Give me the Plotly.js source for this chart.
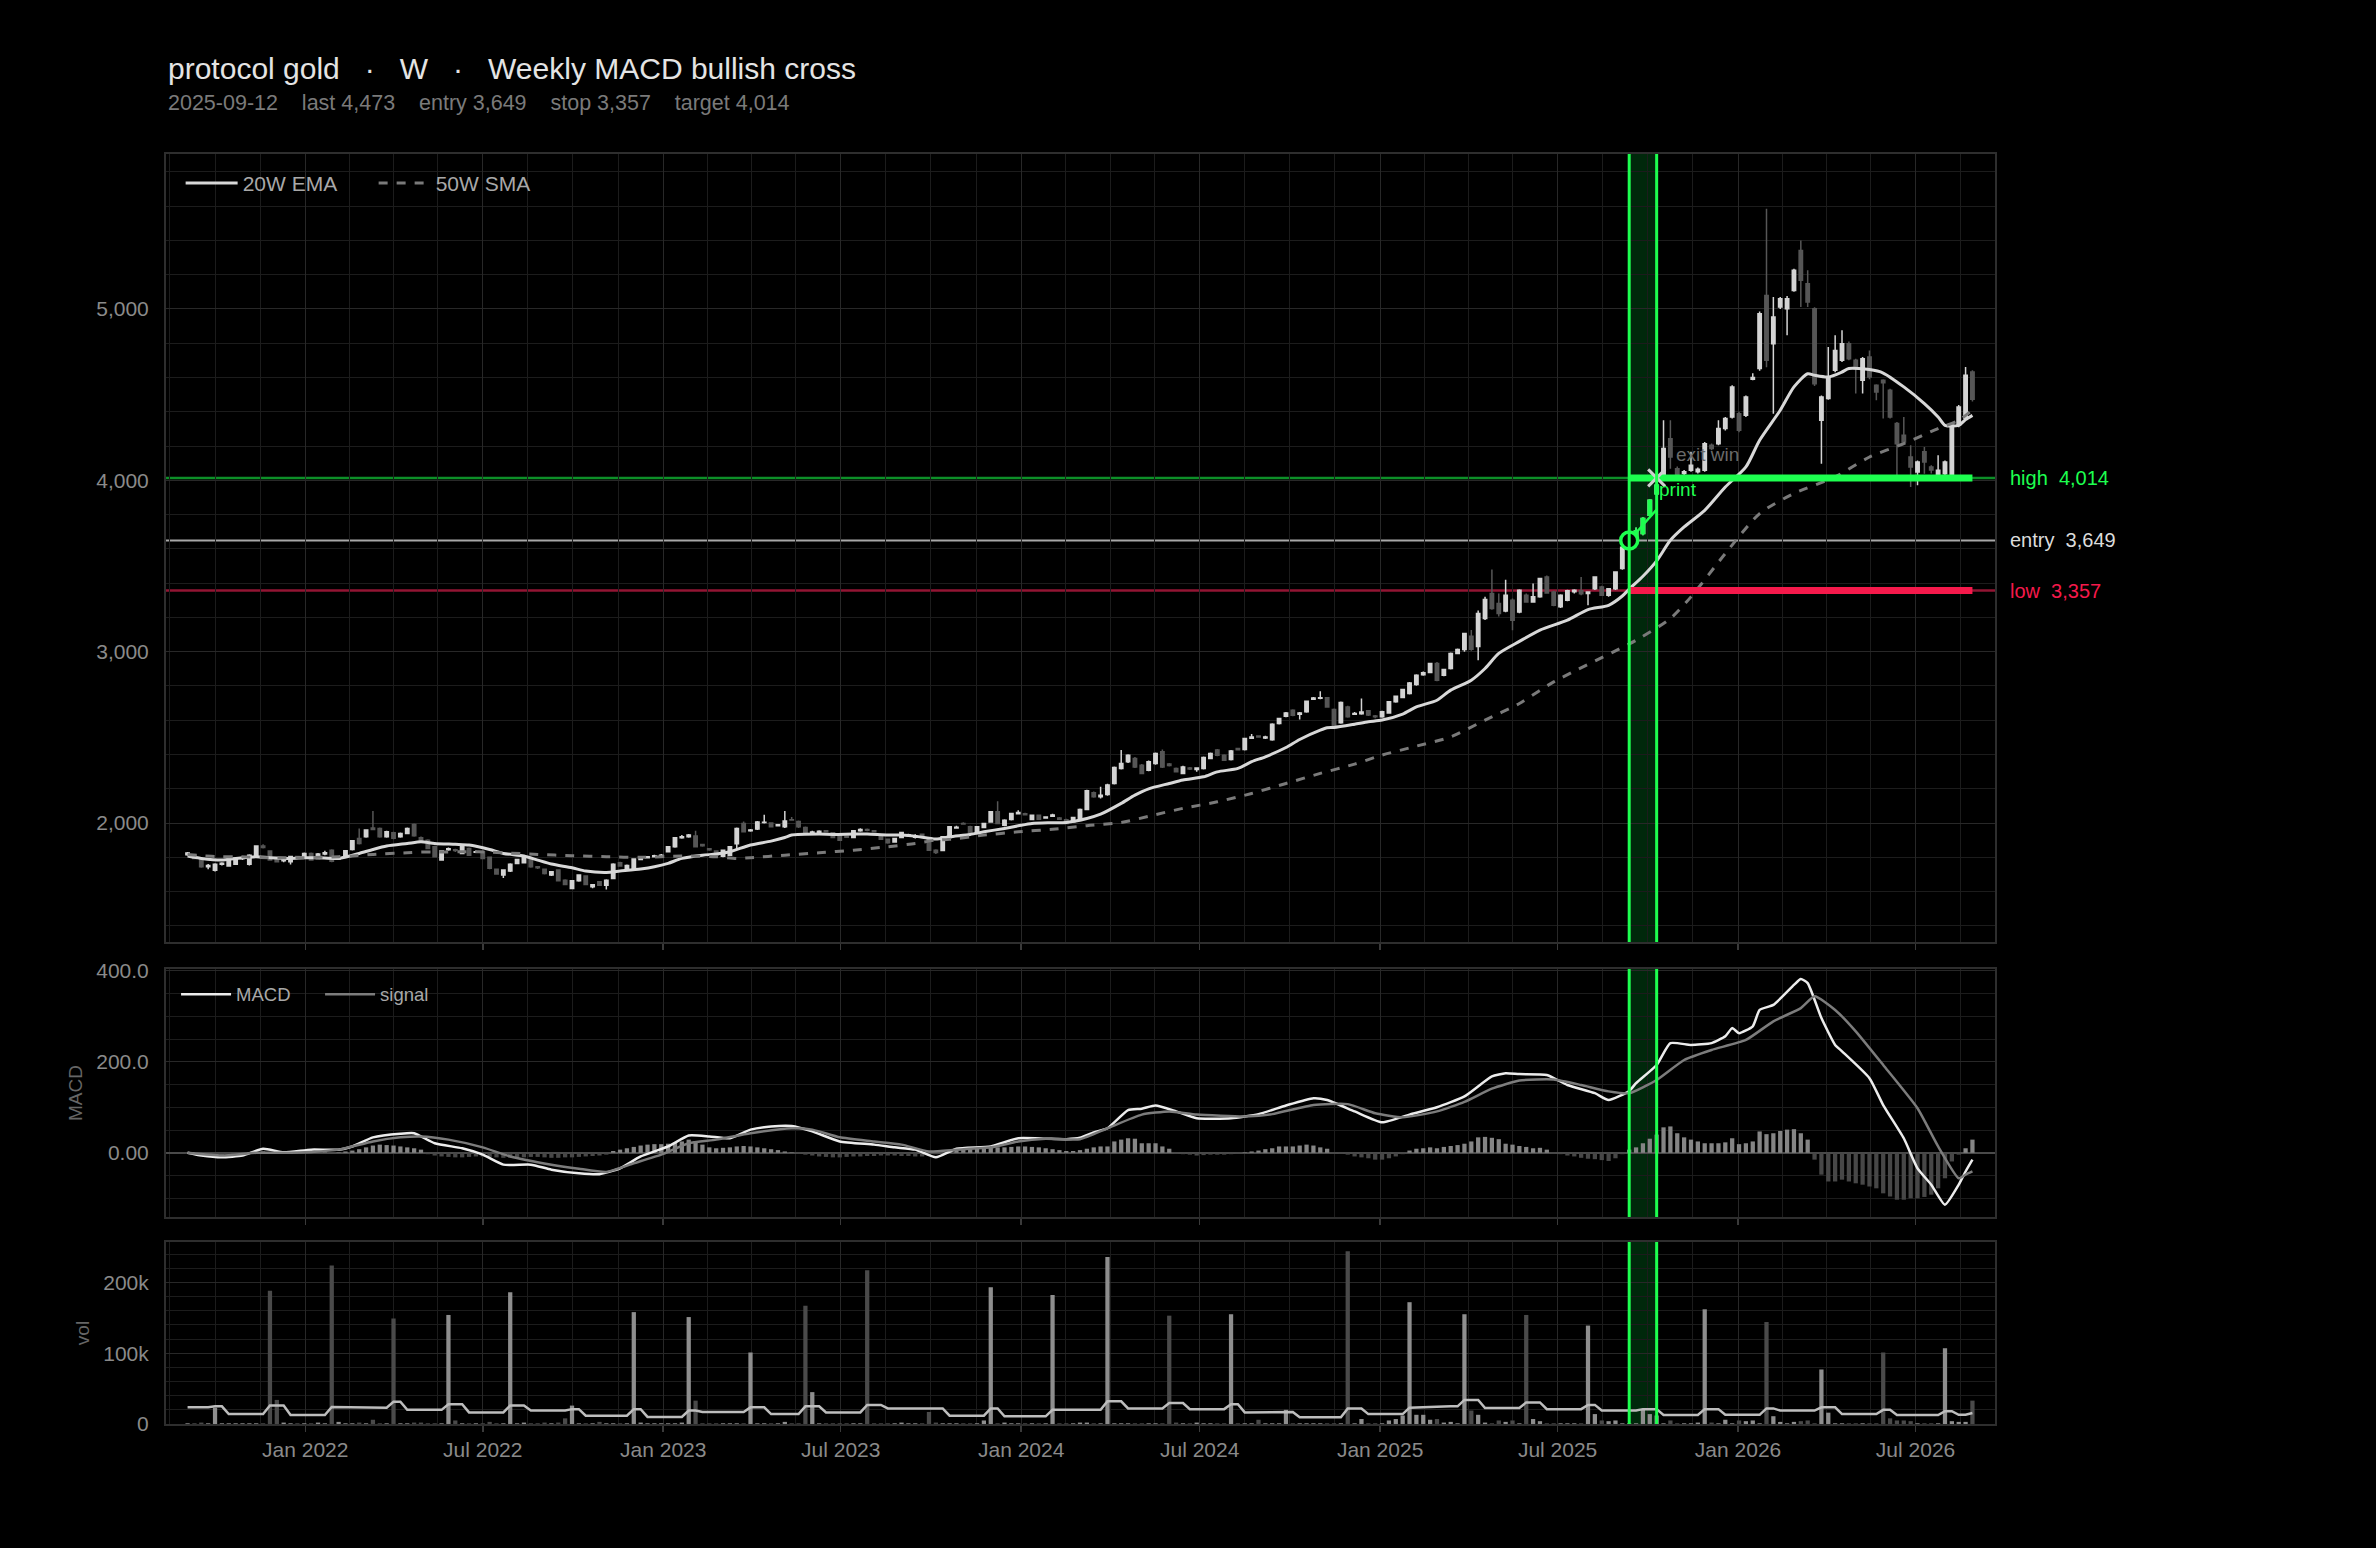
<!DOCTYPE html>
<html><head><meta charset="utf-8">
<script src="https://cdn.plot.ly/plotly-3.0.1.min.js"></script>
<style>html,body{margin:0;padding:0;background:#000;}#chart{width:2376px;height:1548px;}</style>
</head><body><div id="chart"></div>
<script>
// ---------------- data ----------------
const firstWeek = '2021-09-03';
const signalDate = '2025-09-12';
const symbolName = 'protocol gold';
const timeframe = 'W';
const setupName = 'Weekly MACD bullish cross';
const lastPrice = 4473, entryPrice = 3649, stopPrice = 3357, targetPrice = 4014;
const entryWeek = 210, exitWeek = 214, lastWeek = 260;
const tradeWeeks = [211, 212, 213, 214];
const tradePathWeeks = [210, 214];
const tradePathPrices = [3649, 3830];
const exitLabelWeek = 217, exitLabelPrice = 4150;
const printLabelWeek = 214, printLabelPrice = 3946;

const opens = [
1815,1812,1790,1745,1725,1760,1750,1760,1793,1760,
1813,1866,1837,1794,1780,1775,1805,1803,1823,1794,
1819,1842,1790,1807,1846,1910,1920,1972,1969,1920,
1944,1920,1940,1992,1914,1900,1862,1785,1845,1845,
1823,1852,1830,1833,1800,1730,1697,1720,1764,1769,
1794,1745,1730,1697,1726,1667,1619,1664,1691,1628,
1658,1638,1677,1769,1736,1736,1788,1798,1804,1810,
1833,1862,1914,1920,1924,1875,1850,1837,1807,1813,
1880,1997,1955,1965,2003,2000,1985,1978,2020,2010,
1975,1942,1946,1955,1943,1930,1923,1916,1955,1962,
1955,1930,1906,1890,1916,1928,1918,1935,1910,1842,
1840,1916,1972,1998,1978,1940,1975,2007,2066,1988,
2021,2055,2055,2021,2046,2030,2040,2030,2020,2008,
2027,2080,2177,2154,2167,2231,2319,2358,2377,2338,
2309,2348,2416,2345,2318,2290,2322,2312,2319,2377,
2426,2396,2371,2435,2429,2495,2508,2497,2487,2581,
2624,2658,2635,2649,2722,2728,2731,2663,2585,2678,
2635,2638,2655,2625,2620,2643,2708,2733,2756,2808,
2865,2879,2931,2863,2902,2990,3013,3090,3030,3194,
3340,3281,3238,3300,3232,3330,3290,3320,3436,3349,
3262,3300,3350,3355,3340,3368,3378,3330,3368,3485,
3610,3650,3690,3796,3922,4029,4243,4068,4040,4059,
4050,4059,4205,4214,4302,4370,4389,4379,4590,4652,
5079,4797,5011,5001,5108,5341,5147,5001,4350,4477,
4642,4700,4797,4700,4584,4720,4554,4584,4525,4331,
4263,4136,4049,4166,4078,4029,4039,4029,4321,4360,
4632];
const highs = [
1832,1818,1796,1762,1765,1772,1795,1800,1800,1818,
1870,1877,1842,1800,1792,1810,1810,1828,1828,1825,
1838,1848,1802,1843,1902,1968,1964,2070,1975,1955,
1950,1945,1975,1998,1922,1905,1868,1842,1858,1850,
1877,1858,1840,1838,1805,1735,1730,1765,1792,1802,
1800,1750,1735,1720,1730,1672,1668,1702,1696,1645,
1662,1672,1765,1775,1758,1795,1800,1808,1815,1820,
1866,1918,1930,1936,1955,1880,1855,1842,1846,1866,
1974,2010,1965,2012,2048,2005,1995,2070,2035,2015,
1980,1955,1958,1960,1948,1935,1928,1960,1970,1968,
1960,1935,1910,1915,1950,1938,1935,1940,1915,1848,
1925,1982,1985,2005,1985,1982,2000,2070,2128,2022,
2060,2075,2060,2050,2050,2040,2055,2035,2025,2036,
2085,2195,2185,2212,2230,2330,2426,2402,2385,2345,
2365,2412,2430,2350,2325,2334,2328,2325,2388,2412,
2432,2402,2426,2440,2498,2520,2512,2510,2582,2615,
2648,2664,2648,2716,2735,2770,2736,2668,2710,2684,
2648,2727,2660,2630,2655,2713,2745,2784,2823,2868,
2885,2936,2940,2900,2995,3018,3110,3126,3240,3320,
3480,3340,3420,3310,3365,3340,3398,3432,3445,3355,
3335,3362,3365,3436,3352,3440,3385,3372,3470,3615,
3665,3725,3785,3890,4014,4350,4350,4080,4060,4166,
4075,4224,4215,4350,4370,4555,4400,4495,4625,4985,
5585,5070,5070,5075,5235,5400,5225,5010,4495,4778,
4846,4875,4810,4710,4720,4758,4560,4590,4535,4340,
4370,4205,4115,4195,4088,4146,4115,4330,4440,4661,
4642];
const lows = [
1808,1790,1740,1730,1718,1752,1745,1755,1785,1752,
1808,1852,1780,1770,1772,1758,1795,1798,1780,1790,
1812,1772,1785,1802,1840,1875,1915,1958,1915,1915,
1905,1915,1935,1920,1885,1847,1800,1780,1838,1832,
1818,1808,1825,1790,1730,1698,1680,1715,1760,1765,
1740,1732,1700,1692,1660,1638,1614,1658,1638,1620,
1634,1612,1672,1745,1730,1730,1783,1793,1800,1805,
1828,1856,1908,1915,1858,1862,1838,1808,1800,1808,
1850,1945,1950,1960,1998,1975,1980,1972,2014,1972,
1940,1935,1940,1945,1912,1895,1915,1912,1950,1952,
1945,1902,1880,1885,1912,1920,1910,1925,1838,1820,
1835,1912,1968,1990,1938,1935,1970,2002,1995,1982,
2015,2050,2044,2016,2018,2025,2036,2018,1993,2003,
2022,2075,2148,2144,2160,2225,2312,2350,2322,2285,
2302,2340,2322,2330,2295,2285,2310,2300,2312,2372,
2390,2362,2365,2424,2424,2490,2498,2490,2480,2575,
2618,2624,2605,2644,2718,2722,2674,2566,2580,2615,
2630,2632,2625,2612,2614,2638,2702,2728,2750,2802,
2860,2874,2828,2857,2896,2985,3000,3005,2950,3185,
3245,3205,3230,3125,3225,3285,3285,3315,3338,3265,
3255,3295,3340,3330,3271,3360,3325,3320,3360,3478,
3598,3640,3680,3790,3915,4020,4068,4020,4030,4050,
4040,4050,4175,4205,4290,4360,4280,4370,4584,4640,
4660,4389,5000,4846,5100,5011,5011,4550,4097,4470,
4630,4690,4700,4506,4506,4590,4467,4360,4360,4029,
4215,3961,3971,4039,4040,4020,4030,4020,4310,4350,
4460];
const closes = [
1825,1794,1745,1752,1760,1765,1790,1795,1795,1813,
1866,1858,1785,1775,1785,1805,1800,1823,1785,1819,
1827,1778,1797,1838,1897,1881,1959,1963,1920,1950,
1911,1940,1969,1926,1890,1852,1804,1837,1850,1840,
1872,1813,1833,1794,1736,1703,1726,1760,1788,1798,
1745,1740,1706,1716,1664,1642,1664,1697,1642,1640,
1638,1667,1760,1750,1753,1790,1795,1804,1810,1813,
1862,1914,1920,1930,1862,1868,1845,1813,1842,1862,
1969,1950,1960,2007,2005,1978,1990,2012,2018,1978,
1944,1948,1952,1950,1916,1900,1918,1955,1962,1958,
1950,1906,1885,1910,1945,1932,1922,1928,1842,1828,
1920,1978,1976,1994,1940,1978,1997,2066,1998,2017,
2056,2062,2048,2046,2023,2035,2047,2023,1998,2033,
2080,2189,2154,2162,2222,2325,2348,2396,2328,2290,
2358,2406,2328,2336,2299,2328,2315,2322,2383,2406,
2396,2367,2420,2428,2493,2503,2502,2502,2577,2610,
2643,2629,2642,2711,2730,2732,2678,2571,2704,2620,
2640,2648,2630,2620,2649,2708,2740,2779,2818,2863,
2877,2931,2834,2896,2990,3013,3106,3015,3223,3305,
3252,3223,3330,3184,3358,3290,3320,3427,3343,3271,
3330,3355,3358,3338,3348,3436,3330,3368,3465,3610,
3649,3705,3777,3884,3971,4185,4136,4029,4050,4088,
4065,4214,4185,4302,4360,4545,4292,4486,4600,4972,
4700,4953,5060,5060,5225,5167,5040,4564,4486,4593,
4758,4797,4710,4661,4710,4603,4515,4570,4370,4214,
4224,4078,4107,4107,4060,4059,4107,4321,4428,4613,
4473];

// 20W EMA and 50W SMA, read at sample weeks
const emaWeeks = [0,2,5,7,10,12,15,17,19,22,25,27,29,32,34,36,39,41,44,46,49,51,53,56,58,61,63,66,68,70,72,75,77,79,82,85,87,88,92,94,97,99,102,104,106,109,111,114,116,119,121,123,126,128,131,133,136,138,140,143,145,148,150,153,155,157,160,162,165,166,167,170,172,174,177,179,182,184,187,189,191,194,197,201,204,207,209,210,212,214,216,218,221,224,227,229,232,234,236,237,239,241,242,245,247,250,253,255,256,258,259,260];
const emaValues = [1808,1794,1784,1794,1804,1798,1794,1798,1798,1794,1823,1846,1866,1881,1891,1881,1876,1872,1846,1823,1808,1784,1761,1739,1720,1712,1720,1732,1745,1765,1794,1813,1819,1833,1872,1895,1916,1930,1936,1934,1936,1936,1930,1930,1924,1907,1920,1934,1949,1969,1984,1998,2002,2004,2027,2052,2115,2163,2200,2231,2251,2270,2299,2319,2358,2387,2441,2488,2542,2556,2558,2577,2591,2601,2636,2678,2717,2776,2834,2902,2990,3060,3126,3184,3246,3271,3325,3365,3440,3530,3650,3728,3825,3961,4078,4234,4409,4545,4622,4613,4603,4632,4652,4646,4626,4545,4448,4370,4321,4321,4354,4379];
const smaWeeks = [0,2,5,7,12,17,22,24,27,32,34,36,41,44,46,51,56,61,66,72,77,80,82,87,92,97,102,106,109,111,116,121,126,131,136,140,145,150,155,160,165,170,174,179,184,189,194,199,211,216,219,224,229,234,240,245,250,255,258,260];
const smaValues = [1817,1810,1804,1804,1798,1798,1804,1808,1817,1827,1831,1831,1833,1831,1827,1817,1810,1804,1800,1808,1804,1794,1798,1813,1827,1842,1862,1881,1901,1905,1930,1949,1964,1985,2003,2040,2086,2124,2173,2231,2290,2344,2397,2449,2503,2601,2698,2824,3067,3194,3320,3573,3806,3923,4020,4136,4214,4302,4350,4412];

// MACD and signal, read at sample weeks
const macdWeeks = [0,2,5,8,11,14,18,22,24,27,31,33,36,40,43,46,50,53,57,60,63,66,70,73,76,79,82,85,88,91,95,100,103,106,109,112,117,121,125,128,130,132,134,137,139,141,144,147,152,156,160,164,166,170,174,178,182,186,190,192,194,198,201,205,207,210,211,214,216,219,222,224,225,226,228,229,231,234,235,236,238,240,241,245,247,250,252,254,256,258,259,260];
const macdValues = [0,-6,-10,-6,9,1,7,7,14,34,42,43,21,10,-4,-26,-26,-37,-45,-47,-34,-8,14,38,36,32,51,58,59,47,25,18,12,7,-10,9,14,32,31,30,33,45,54,94,97,104,91,76,76,85,104,120,116,91,67,84,100,124,168,175,173,171,149,131,116,136,153,193,241,237,241,256,274,263,278,314,325,369,382,373,296,237,223,164,105,32,-34,-70,-114,-70,-41,-15];
const signalWeeks = [0,5,10,14,18,22,27,31,34,38,43,47,53,57,61,65,69,73,77,82,88,91,95,100,104,108,112,117,121,125,130,134,139,143,147,154,158,164,169,173,177,182,186,190,194,199,203,207,210,214,218,222,227,231,235,237,240,243,247,252,255,258,259,260];
const signalValues = [0,-6,0,0,2,7,25,34,36,29,12,-8,-26,-35,-42,-23,-4,21,29,43,54,51,34,25,18,3,7,12,25,31,30,54,84,91,84,80,85,105,107,87,78,91,112,141,159,161,149,135,131,160,204,226,248,289,318,344,314,267,193,98,14,-56,-48,-41];
const macdHist = [
-2,-3,-4,-5,-5,-4,-4,-3,-2,-1,
2,3,2,1,0,0,1,1,0,0,
1,0,1,3,5,8,12,16,18,17,
16,14,12,10,7,-3,-6,-8,-9,-10,
-10,-9,-8,-8,-9,-10,-11,-11,-10,-10,
-9,-9,-10,-11,-11,-10,-10,-9,-8,-7,
-6,-4,4,7,10,13,16,18,19,19,
20,22,25,29,26,18,12,10,11,12,
14,15,14,12,10,8,6,3,1,-2,
-4,-6,-8,-9,-10,-10,-9,-8,-8,-7,
-7,-6,-6,-6,-7,-7,-8,-8,-6,-3,
0,3,5,7,8,9,10,11,12,12,
13,14,14,13,12,10,8,6,4,4,
6,9,12,14,14,25,29,32,31,21,
21,21,14,9,-2,-3,-4,-6,-5,-4,
-4,-4,-3,-2,1,3,5,8,10,14,
14,14,16,18,16,12,9,-1,-2,-4,
-8,-10,-12,-15,-15,-12,-8,-3,5,9,
10,12,10,13,15,17,20,25,34,35,
33,30,20,18,15,13,10,11,7,-1,
-3,-6,-8,-11,-13,-14,-16,-18,-12,-3,
7,12,21,31,40,56,58,43,34,29,
25,21,21,21,23,32,19,21,25,47,
41,43,48,51,52,43,29,-15,-48,-63,
-63,-59,-63,-67,-70,-74,-78,-89,-96,-103,
-103,-100,-100,-97,-92,-78,-56,-19,-4,10,
29];

// weekly volume and its average line, in thousands
const volumeK = [
1,1,2,1,23,1,1,1,1,1,
1,1,188,34,2,1,1,1,1,2,
1,224,3,1,1,2,1,6,1,1,
149,1,1,2,2,1,1,1,154,5,
1,1,1,1,3,1,1,186,1,2,
1,1,2,1,2,8,26,1,1,1,
3,1,1,1,1,158,2,1,1,1,
1,1,2,151,33,1,1,1,1,1,
1,1,101,1,1,1,1,3,1,1,
167,45,1,1,1,1,1,1,1,217,
1,1,1,1,2,1,1,1,17,2,
1,1,1,1,1,1,5,193,1,2,
1,1,1,1,1,1,182,1,1,1,
2,2,1,1,236,1,1,1,1,1,
1,1,1,153,2,1,1,2,1,1,
1,1,155,1,1,1,6,1,1,1,
20,1,1,1,1,1,1,1,1,244,
1,7,1,1,1,5,7,12,172,13,
13,6,7,2,3,1,155,19,13,2,
1,5,3,5,1,154,7,4,1,1,
1,1,1,1,139,14,5,4,5,1,
1,1,21,14,12,1,5,1,1,1,
2,162,2,1,6,1,5,4,5,1,
144,11,3,1,3,4,5,1,77,16,
1,1,1,1,1,1,1,101,8,5,
5,4,1,1,1,1,107,4,3,3,
33];
const volumeAvgK = [
23.5,23.5,23.5,23.5,25,25,14,14,14,14,
14,14,26,26,26,12.7,12.7,12.7,12.7,12.7,
12.7,24,24,24,23,23,23,23,23,23,
31.5,31.5,20,20,20,20,20,20,28,28,
28,16.4,16.4,16.4,16.4,16.4,16.4,26,26,26,
19,19,19,19,19,19,21,21,11.7,11.7,
11.7,11.7,11.7,11.7,11.7,21,21,10,10,10,
10,10,10,19,19,17,17,17,17,17,
17,17,23.5,23.5,23.5,14,14,14,14,14,
25,25,25,16.4,16.4,16.4,16.4,16.4,16.4,27,
27,27,22,22,22,22,22,22,22,22,
22,11.7,11.7,11.7,11.7,11.7,11.7,22,22,10.8,
10.8,10.8,10.8,10.8,10.8,10.8,20,20,20,20,
20,20,20,20,32,32,32,22,22,22,
22,22,22,29.6,29.6,29.6,21,21,21,21,
21,21,28,28,16.4,16.4,16.4,16.4,16.4,16.4,
17,17,9.4,9.4,9.4,9.4,9.4,9.4,9.4,22,
22,22,14,14,14,14,14,14,23,23.5,
24,24,24.5,24.5,25,25,34,34,34,22.5,
22.5,22.5,22.5,22.5,22.5,30.5,30.5,30.5,21,21,
21,21,21,21,27,27,19,19,19,19,
19,19,21,21,21,12.7,12.7,12.7,12.7,12.7,
12.7,21,21,21,13,13,13,13,13,13,
22,22,19,19,19,19,19,19,23.5,23.5,
23.5,14,14,14,14,14,14,20,20,12.7,
12.7,12.7,12.7,12.7,12.7,12.7,18,18,13,13,
15.5];

const macdTickVals = [0, 200, 400];
const macdTickText = ['0.00', '200.0', '400.0'];
const volTickVals = [0, 100, 200];
const volTickText = ['0', '100k', '200k'];

// ---------------- build ----------------
const DAY = 86400000;
const t0 = Date.parse(firstWeek + 'T00:00:00Z');
const wk = i => new Date(t0 + i * 7 * DAY).toISOString().slice(0, 10);
const dates = closes.map((_, i) => wk(i));
const fmt = v => v.toLocaleString('en-US');
const NB = '\u00A0';
const sp = n => NB.repeat(n);

const FONT = 'Liberation Sans, Arial, Helvetica, sans-serif';
const GREEN = '#1dff4f', RED = '#f5194b';
const UP = '#d4d4d4', DOWN = '#565656';
const GRID = '#282828', MINOR = '#1c1c1c', BORDER = '#2e2e2e';

const xRange = ['2021-08-12', '2026-09-20'];
// minor grid every 1.5 months
const minorDates = [];
for (let y = 2021; y <= 2026; y++) {
  ['01-01','02-15','04-01','05-16','07-01','08-16','10-01','11-16'].forEach(md => minorDates.push(y + '-' + md));
}

const traces = [];
traces.push({
  type: 'candlestick', x: dates, open: opens, high: highs, low: lows, close: closes,
  xaxis: 'x', yaxis: 'y', showlegend: false, hoverinfo: 'skip',
  increasing: {line: {color: UP, width: 1.5}, fillcolor: UP},
  decreasing: {line: {color: DOWN, width: 1.5}, fillcolor: DOWN}
});
traces.push({
  type: 'scatter', mode: 'lines', name: '20W EMA', legend: 'legend',
  x: emaWeeks.map(wk), y: emaValues, xaxis: 'x', yaxis: 'y',
  line: {color: '#d8d8d8', width: 3, shape: 'spline', smoothing: 0.7}, hoverinfo: 'skip'
});
traces.push({
  type: 'scatter', mode: 'lines', name: '50W SMA', legend: 'legend',
  x: smaWeeks.map(wk), y: smaValues, xaxis: 'x', yaxis: 'y',
  line: {color: '#7a7a7a', width: 3, dash: 'dash', shape: 'spline', smoothing: 0.7}, hoverinfo: 'skip'
});
traces.push({
  type: 'scatter', mode: 'lines', showlegend: false, hoverinfo: 'skip',
  x: tradePathWeeks.map(wk), y: tradePathPrices, xaxis: 'x', yaxis: 'y',
  line: {color: GREEN, width: 2.5}
});
traces.push({
  type: 'candlestick', x: tradeWeeks.map(wk),
  open: tradeWeeks.map(i => opens[i]), high: tradeWeeks.map(i => highs[i]),
  low: tradeWeeks.map(i => lows[i]), close: tradeWeeks.map(i => closes[i]),
  xaxis: 'x', yaxis: 'y', showlegend: false, hoverinfo: 'skip',
  increasing: {line: {color: GREEN, width: 1.5}, fillcolor: GREEN},
  decreasing: {line: {color: GREEN, width: 1.5}, fillcolor: GREEN}
});
// thick level segments for the trade window onward
traces.push({
  type: 'scatter', mode: 'lines', showlegend: false, hoverinfo: 'skip',
  x: [wk(entryWeek), wk(lastWeek)], y: [targetPrice, targetPrice], xaxis: 'x', yaxis: 'y',
  line: {color: GREEN, width: 7}
});
traces.push({
  type: 'scatter', mode: 'lines', showlegend: false, hoverinfo: 'skip',
  x: [wk(entryWeek), wk(lastWeek)], y: [stopPrice, stopPrice], xaxis: 'x', yaxis: 'y',
  line: {color: RED, width: 7}
});
traces.push({
  type: 'scatter', mode: 'markers', showlegend: false, hoverinfo: 'skip',
  x: [wk(entryWeek)], y: [entryPrice], xaxis: 'x', yaxis: 'y',
  marker: {symbol: 'circle', size: 17, color: '#000', line: {color: GREEN, width: 3.5}}
});
traces.push({
  type: 'scatter', mode: 'markers', showlegend: false, hoverinfo: 'skip',
  x: [wk(exitWeek)], y: [targetPrice], xaxis: 'x', yaxis: 'y',
  marker: {symbol: 'x-thin', size: 17, color: '#d0d0d0', line: {color: '#d0d0d0', width: 3}}
});
// MACD panel
traces.push({
  type: 'bar', x: dates, y: macdHist, xaxis: 'x2', yaxis: 'y2', showlegend: false, hoverinfo: 'skip',
  width: 7 * DAY * 0.62,
  marker: {color: macdHist.map(v => v >= 0 ? '#858585' : '#474747'), line: {width: 0}}
});
traces.push({
  type: 'scatter', mode: 'lines', name: 'MACD', legend: 'legend2',
  x: macdWeeks.map(wk), y: macdValues, xaxis: 'x2', yaxis: 'y2', hoverinfo: 'skip',
  line: {color: '#ececec', width: 2.5, shape: 'spline', smoothing: 0.5}
});
traces.push({
  type: 'scatter', mode: 'lines', name: 'signal', legend: 'legend2',
  x: signalWeeks.map(wk), y: signalValues, xaxis: 'x2', yaxis: 'y2', hoverinfo: 'skip',
  line: {color: '#7c7c7c', width: 2.5, shape: 'spline', smoothing: 0.5}
});
// volume panel
traces.push({
  type: 'bar', x: dates, y: volumeK, xaxis: 'x3', yaxis: 'y3', showlegend: false, hoverinfo: 'skip',
  width: 7 * DAY * 0.62,
  marker: {color: closes.map((c, i) => c >= opens[i] ? '#8e8e8e' : '#4a4a4a'), line: {width: 0}}
});
traces.push({
  type: 'scatter', mode: 'lines', showlegend: false, hoverinfo: 'skip',
  x: dates, y: volumeAvgK, xaxis: 'x3', yaxis: 'y3',
  line: {color: '#bdbdbd', width: 2.5}
});

const tickFont = {family: FONT, size: 21, color: '#8a8a8a'};
const xBase = {
  type: 'date', range: xRange, tick0: '2022-01-01', dtick: 'M6', tickformat: '%b %Y',
  ticks: 'outside', ticklen: 6, tickcolor: '#3a3a3a', tickwidth: 1.5,
  showgrid: true, gridcolor: GRID, gridwidth: 1, zeroline: false,
  showline: true, mirror: true, linecolor: BORDER, linewidth: 2,
  minor: {tickmode: 'array', tickvals: minorDates, showgrid: true, gridcolor: MINOR, gridwidth: 1, ticks: ''},
  tickfont: tickFont
};
const yBase = {
  showgrid: true, gridcolor: GRID, gridwidth: 1, zeroline: false,
  showline: true, mirror: true, linecolor: BORDER, linewidth: 2,
  ticks: '', tickfont: tickFont, ticklabelstandoff: 11
};

const shapes = [];
['y', 'y2', 'y3'].forEach(ax => {
  shapes.push({type: 'rect', xref: 'x', yref: ax + ' domain', x0: wk(entryWeek), x1: wk(exitWeek), y0: 0, y1: 1,
    fillcolor: 'rgba(0,200,55,0.2)', line: {width: 0}, layer: 'below'});
  [entryWeek, exitWeek].forEach(w => shapes.push({type: 'line', xref: 'x', yref: ax + ' domain',
    x0: wk(w), x1: wk(w), y0: 0, y1: 1, line: {color: GREEN, width: 3}}));
});
shapes.push({type: 'line', xref: 'x domain', yref: 'y', x0: 0, x1: 1, y0: targetPrice, y1: targetPrice,
  line: {color: '#0d8f28', width: 2.5}, layer: 'below'});
shapes.push({type: 'line', xref: 'x domain', yref: 'y', x0: 0, x1: 1, y0: entryPrice, y1: entryPrice,
  line: {color: '#a8a8a8', width: 2}, layer: 'below'});
shapes.push({type: 'line', xref: 'x domain', yref: 'y', x0: 0, x1: 1, y0: stopPrice, y1: stopPrice,
  line: {color: '#921533', width: 2.5}, layer: 'below'});

const annotations = [
  {xref: 'paper', yref: 'paper', x: 0, y: 1.067, xanchor: 'left', yanchor: 'middle', showarrow: false,
   text: symbolName + sp(3) + '·' + sp(3) + timeframe + sp(3) + '·' + sp(3) + setupName,
   font: {family: FONT, size: 30, color: '#e4e4e4'}},
  {xref: 'paper', yref: 'paper', x: 0, y: 1.040, xanchor: 'left', yanchor: 'middle', showarrow: false,
   text: signalDate + sp(4) + 'last ' + fmt(lastPrice) + sp(4) + 'entry ' + fmt(entryPrice) + sp(4) +
         'stop ' + fmt(stopPrice) + sp(4) + 'target ' + fmt(targetPrice),
   font: {family: FONT, size: 21.5, color: '#7a7a7a'}},
  {xref: 'paper', yref: 'y', x: 1.007, y: targetPrice, xanchor: 'left', yanchor: 'middle', showarrow: false,
   text: 'high' + sp(2) + fmt(targetPrice), font: {family: FONT, size: 20, color: GREEN}},
  {xref: 'paper', yref: 'y', x: 1.007, y: entryPrice, xanchor: 'left', yanchor: 'middle', showarrow: false,
   text: 'entry' + sp(2) + fmt(entryPrice), font: {family: FONT, size: 20, color: '#dcdcdc'}},
  {xref: 'paper', yref: 'y', x: 1.007, y: stopPrice, xanchor: 'left', yanchor: 'middle', showarrow: false,
   text: 'low' + sp(2) + fmt(stopPrice), font: {family: FONT, size: 20, color: RED}},
  {xref: 'x', yref: 'y', x: wk(exitLabelWeek), y: exitLabelPrice, xanchor: 'left', yanchor: 'middle', showarrow: false,
   xshift: -3, text: 'exit win', font: {family: FONT, size: 19, color: '#6a6a6a'}},
  {xref: 'x', yref: 'y', x: wk(printLabelWeek), y: printLabelPrice, xanchor: 'left', yanchor: 'middle', showarrow: false,
   text: 'print', font: {family: FONT, size: 19, color: GREEN}}
];

const layout = {
  width: 2376, height: 1548,
  paper_bgcolor: '#000', plot_bgcolor: '#000',
  font: {family: FONT, color: '#8a8a8a', size: 19},
  margin: {l: 166, r: 381, t: 154, b: 124},
  showlegend: true,
  legend: {x: 0.008, y: 0.993, xanchor: 'left', yanchor: 'top', orientation: 'h',
    bgcolor: 'rgba(0,0,0,0)', font: {family: FONT, size: 21, color: '#a8a8a8'},
    itemwidth: 52, entrywidth: 126, entrywidthmode: 'pixels'},
  legend2: {x: 0.0055, y: 0.353, xanchor: 'left', yanchor: 'top', orientation: 'h',
    bgcolor: 'rgba(0,0,0,0)', font: {family: FONT, size: 18.5, color: '#a8a8a8'},
    itemwidth: 50, entrywidth: 79, entrywidthmode: 'pixels'},
  xaxis: Object.assign({}, xBase, {anchor: 'y', showticklabels: false, rangeslider: {visible: false}}),
  xaxis2: Object.assign({}, xBase, {anchor: 'y2', matches: 'x', showticklabels: false}),
  xaxis3: Object.assign({}, xBase, {anchor: 'y3', matches: 'x', showticklabels: true}),
  yaxis: Object.assign({}, yBase, {domain: [0.3795, 1], range: [1306, 5904], tick0: 0, dtick: 1000, tickformat: ',',
    minor: {dtick: 200, tick0: 0, showgrid: true, gridcolor: MINOR, gridwidth: 1, ticks: ''}}),
  yaxis2: Object.assign({}, yBase, {domain: [0.163, 0.3583], range: [-141, 404], tickmode: 'array',
    tickvals: macdTickVals, ticktext: macdTickText, zeroline: true, zerolinecolor: '#4a4a4a', zerolinewidth: 2,
    minor: {tickmode: 'linear', dtick: 50, tick0: 0, showgrid: true, gridcolor: MINOR, gridwidth: 1, ticks: ''},
    title: {text: 'MACD', font: {family: FONT, size: 19, color: '#666'}, standoff: 9}}),
  yaxis3: Object.assign({}, yBase, {domain: [0, 0.1433], range: [0, 257], tickmode: 'array',
    tickvals: volTickVals, ticktext: volTickText,
    minor: {tickmode: 'linear', dtick: 20, tick0: 0, showgrid: true, gridcolor: MINOR, gridwidth: 1, ticks: ''},
    title: {text: 'vol', font: {family: FONT, size: 19, color: '#666'}, standoff: 9}}),
  shapes: shapes,
  annotations: annotations,
  bargap: 0.3
};

Plotly.newPlot('chart', traces, layout, {displayModeBar: false, staticPlot: true});
</script></body></html>
